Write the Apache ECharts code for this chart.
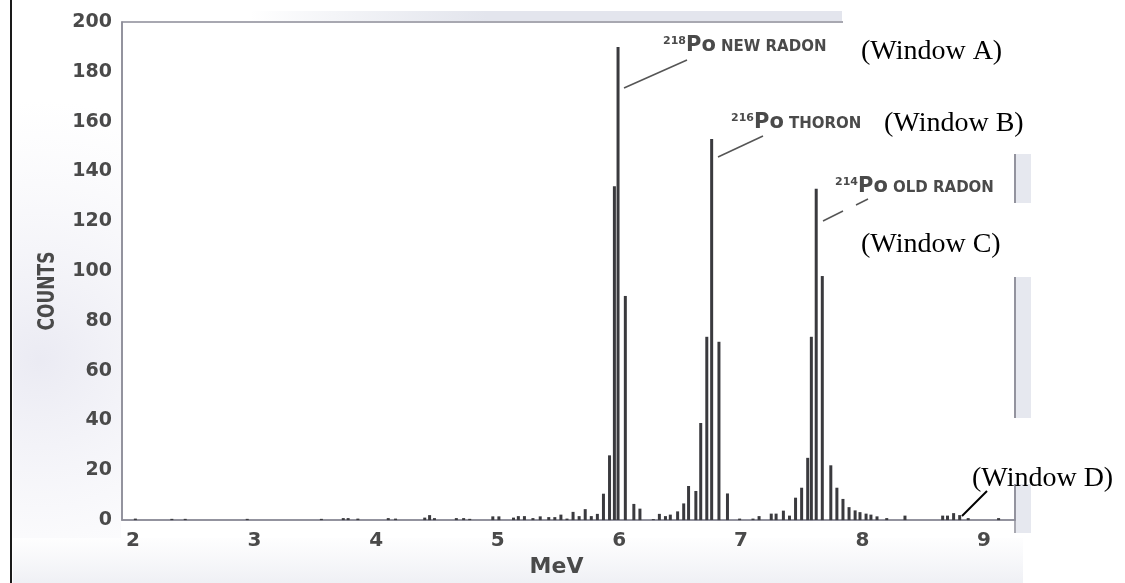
<!DOCTYPE html>
<html>
<head>
<meta charset="utf-8">
<script src="https://cdn.jsdelivr.net/npm/echarts@6/dist/echarts.min.js"></script>
<style>
html, body { margin: 0; padding: 0; background: #fff; }
#main { width: 1125px; height: 583px; }
</style>
</head>
<body>
<div id="main"></div>
<script>
// energy channels (MeV) and counts
var energies = [
    2.02, 2.32, 2.43, 2.94, 3.55, 3.73, 3.77, 3.85, 4.10, 4.16, 4.40, 4.44, 4.48, 4.66, 4.72, 4.77, 4.96, 5.01, 5.13, 5.17, 5.22, 5.29, 5.35,
    5.42, 5.47, 5.52, 5.57, 5.62, 5.67, 5.72, 5.77, 5.82, 5.87, 5.92, 5.96, 5.99, 6.05, 6.12, 6.17,
    6.28, 6.33, 6.38, 6.42, 6.48, 6.53, 6.57, 6.63, 6.67, 6.72, 6.76, 6.82, 6.89,
    6.99, 7.10, 7.15, 7.25, 7.29, 7.35, 7.40, 7.45, 7.50, 7.55, 7.58, 7.62, 7.67, 7.74, 7.79, 7.84, 7.89, 7.94, 7.98, 8.03, 8.07, 8.12, 8.20,
    8.35, 8.66, 8.70, 8.75, 8.80, 8.87, 9.12
]
var counts = [
    0.6, 0.5, 0.5, 0.5, 0.5, 0.8, 0.8, 0.6, 0.8, 0.6, 1, 2, 0.8, 0.8, 0.8, 0.5, 1.5, 1.5, 1, 1.6, 1.6, 0.8, 1.5,
    1.2, 1.2, 2.2, 0.6, 3.3, 1.6, 4.4, 1.6, 2.5, 10.6, 26, 134, 190, 90, 6.5, 4.6,
    0.4, 2.5, 1.6, 2.2, 3.5, 6.7, 13.7, 11.7, 39, 73.6, 153, 71.6, 10.7,
    0.6, 0.6, 1.6, 2.6, 2.6, 3.8, 1.8, 9, 13, 25, 73.6, 133, 98, 22, 13, 8.5, 5.2, 3.9, 3.2, 2.6, 2.2, 1.5, 0.8,
    1.8, 1.8, 1.8, 2.8, 2, 0.8, 0.8
]
var xTicks = [2, 3, 4, 5, 6, 7, 8, 9]

var labelFont = 'DejaVu Sans'
var grey = '#4a4a4a'
var axisGrey = '#8c8c98'

// isotope label: superscript mass number, "Po", then the name
function isoLabel(x, y, mass, name) {
    return [
        { type: 'text', x: x, y: y - 5, z: 100, style: { text: mass, font: 'bold 11px ' + labelFont, fill: grey, align: 'left', verticalAlign: 'middle' } },
        { type: 'text', x: x + 23, y: y, z: 100, style: { text: 'Po', font: 'bold 21px ' + labelFont, fill: grey, align: 'left', verticalAlign: 'middle' } },
        { type: 'text', x: x + 58, y: y + 1, z: 100, style: { text: name, font: 'bold 15px ' + labelFont, fill: grey, align: 'left', verticalAlign: 'middle' } }
    ]
}

function windowLabel(x, y, text) {
    return { type: 'text', x: x, y: y, z: 110, style: { text: text, font: '28px "Liberation Serif", "Times New Roman", serif', fill: '#000', align: 'left', verticalAlign: 'middle' } }
}

function seg(x1, y1, x2, y2, color, w) {
    return { type: 'line', z: 105, shape: { x1: x1, y1: y1, x2: x2, y2: y2 }, style: { stroke: color, lineWidth: w } }
}

var graphics = [
    // scan shading
    { type: 'rect', z: -1, shape: { x: 13, y: 60, width: 108, height: 478 },
        style: { fill: new echarts.graphic.RadialGradient(40, 360, 260, [{ offset: 0, color: 'rgba(226,226,238,0.7)' }, { offset: 1, color: 'rgba(236,236,244,0)' }], true) } },
    { type: 'rect', z: -1, shape: { x: 13, y: 538, width: 1010, height: 45 },
        style: { fill: new echarts.graphic.LinearGradient(0, 0, 0, 1, [{ offset: 0, color: 'rgba(232,233,240,0.05)' }, { offset: 1, color: 'rgba(228,230,238,0.6)' }]) } },
    { type: 'rect', z: 1, shape: { x: 250, y: 11, width: 592, height: 10 },
        style: { fill: new echarts.graphic.LinearGradient(0, 0, 1, 0, [{ offset: 0, color: 'rgba(222,225,234,0)' }, { offset: 0.4, color: '#e3e5ed' }, { offset: 1, color: '#e3e5ed' }]) } },
    // page edge
    seg(11, 0, 11, 583, '#1a1a1a', 2),
    // white patches behind the pasted window labels
    { type: 'rect', z: 90, shape: { x: 843, y: 0, width: 282, height: 154 }, style: { fill: '#fff' } },
    { type: 'rect', z: 90, shape: { x: 843, y: 203, width: 190, height: 74 }, style: { fill: '#fff' } },
    { type: 'rect', z: 90, shape: { x: 962, y: 418, width: 163, height: 66 }, style: { fill: '#fff' } },
    // shaded right border where visible
    { type: 'rect', z: 91, shape: { x: 1016, y: 154, width: 15, height: 49 }, style: { fill: '#e6e8ef' } },
    { type: 'rect', z: 91, shape: { x: 1016, y: 277, width: 15, height: 141 }, style: { fill: '#e6e8ef' } },
    { type: 'rect', z: 91, shape: { x: 1016, y: 484, width: 15, height: 49 }, style: { fill: '#e6e8ef' } },
    seg(1015, 154, 1015, 203, axisGrey, 1.5),
    seg(1015, 277, 1015, 418, axisGrey, 1.5),
    seg(1015, 484, 1015, 533, axisGrey, 1.5),
    // leader lines
    seg(687, 60, 624, 88, '#555', 1.5),
    seg(763, 136, 718, 157, '#555', 1.5),
    seg(868, 199, 856, 205, '#555', 1.5),
    seg(843, 211, 823, 221, '#555', 1.5),
    seg(987, 491, 962, 516, '#000', 2),
    windowLabel(861, 52, '(Window A)'),
    windowLabel(884, 124, '(Window B)'),
    windowLabel(861, 245, '(Window C)'),
    windowLabel(972, 479, '(Window D)'),
    // y axis title, condensed
    { type: 'text', x: 48, y: 291, rotation: Math.PI / 2, scaleX: 0.74, z: 100,
        style: { text: 'COUNTS', font: 'bold 23px ' + labelFont, fill: grey, align: 'center', verticalAlign: 'middle' } }
]
graphics = graphics.concat(isoLabel(663, 46, '218', 'NEW RADON'))
graphics = graphics.concat(isoLabel(731, 123, '216', 'THORON'))
graphics = graphics.concat(isoLabel(835, 187, '214', 'OLD RADON'))

var option = {
    animation: false,
    backgroundColor: '#fff',
    grid: {
        left: 122,
        right: 110,
        top: 22,
        bottom: 50,
        show: true,
        borderColor: axisGrey,
        borderWidth: 1.5
    },
    xAxis: {
        type: 'value',
        min: 1.91,
        max: 9.255,
        name: 'MeV',
        nameLocation: 'middle',
        nameGap: 33,
        nameTextStyle: { fontFamily: labelFont, fontWeight: 'bold', fontSize: 22, color: grey, padding: [0, 24, 0, 0] },
        axisLine: { lineStyle: { color: axisGrey, width: 1.5 } },
        axisTick: { show: false },
        splitLine: { show: false },
        axisLabel: {
            customValues: xTicks,
            margin: 11,
            fontFamily: labelFont,
            fontWeight: 'bold',
            fontSize: 20,
            color: grey
        }
    },
    yAxis: {
        type: 'value',
        min: 0,
        max: 200,
        interval: 20,
        axisLine: { show: true, lineStyle: { color: axisGrey, width: 1.5 } },
        axisTick: { show: false },
        splitLine: { show: false },
        axisLabel: {
            margin: 10,
            fontFamily: labelFont,
            fontWeight: 'bold',
            fontSize: 19,
            color: grey
        }
    },
    series: [{
        type: 'bar',
        barWidth: 3,
        itemStyle: { color: '#3a3a3e' },
        data: energies.map(function (e, i) { return [e, counts[i]] })
    }],
    graphic: graphics
}

var chart = echarts.init(document.getElementById('main'))
chart.setOption(option)
</script>
</body>
</html>
